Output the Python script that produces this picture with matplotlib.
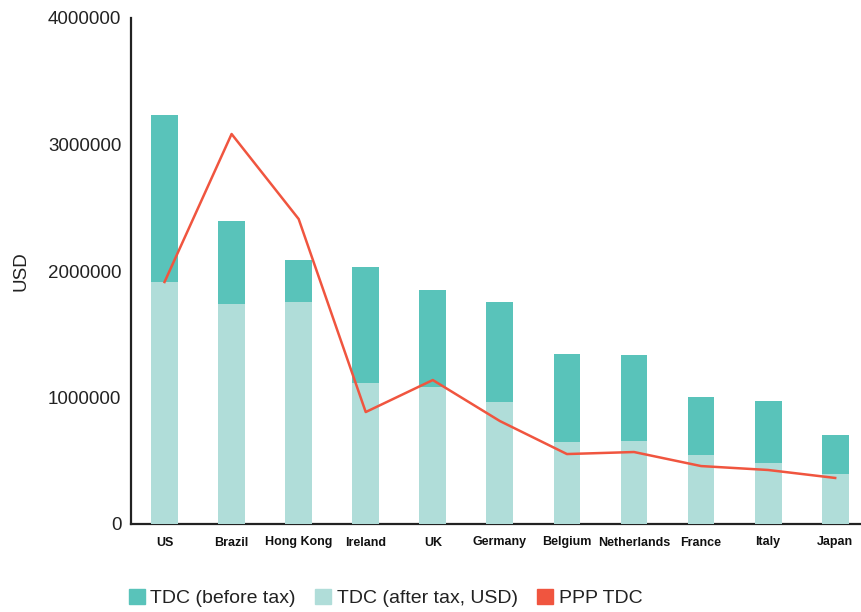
import matplotlib
matplotlib.use("Agg")
import matplotlib.pyplot as plt
from matplotlib.patches import Patch

countries = ["US", "Brazil", "Hong Kong", "Ireland", "UK", "Germany",
             "Belgium", "Netherlands", "France", "Italy", "Japan"]
tdc_before_tax = [3233000, 2395000, 2087000, 2032000, 1850000, 1755000,
                  1344000, 1336000, 1004000, 972000, 704000]
tdc_after_tax = [1913000, 1739000, 1755000, 1115000, 1083000, 964000,
                 648000, 656000, 545000, 482000, 395000]
ppp_tdc = [1913000, 3083000, 2411000, 885000, 1138000, 814000,
           553000, 569000, 458000, 427000, 364000]

C_BEFORE = "#59C3BA"
C_AFTER = "#B0DDD9"
C_PPP = "#F0553F"

plt.rcParams["font.family"] = ["Liberation Sans", "DejaVu Sans"]

fig = plt.figure(figsize=(8.62, 6.12), dpi=100)
ax = fig.add_axes([131 / 862, 1 - 524 / 612, (862 - 131) / 862, (524 - 18) / 612])

x = range(len(countries))
# before-tax bar drawn full height, after-tax overlaid from zero
ax.bar(x, tdc_before_tax, width=0.4, color=C_BEFORE, zorder=2)
ax.bar(x, tdc_after_tax, width=0.4, color=C_AFTER, zorder=3)
ax.plot(x, ppp_tdc, color=C_PPP, linewidth=1.8, zorder=4)

ax.set_ylim(0, 4000000)
ax.set_xlim(-0.5, 10.4)
ax.set_yticks([0, 1000000, 2000000, 3000000, 4000000])
ax.set_yticklabels(["0", "1000000", "2000000", "3000000", "4000000"],
                   fontsize=13.5, color="#222222")
ax.set_xticks(list(x))
ax.set_xticklabels(countries, fontsize=9, fontweight="bold", color="#111111")
ax.tick_params(axis="both", length=0)
ax.tick_params(axis="y", pad=7)
ax.tick_params(axis="x", pad=9)
ax.set_ylabel("USD", fontsize=13.5, color="#222222", labelpad=13)

for side in ["top", "right"]:
    ax.spines[side].set_visible(False)
for side in ["left", "bottom"]:
    ax.spines[side].set_linewidth(1.6)
    ax.spines[side].set_color("#222222")

handles = [Patch(color=C_BEFORE, label="TDC (before tax)"),
           Patch(color=C_AFTER, label="TDC (after tax, USD)"),
           Patch(color=C_PPP, label="PPP TDC")]
leg = fig.legend(handles=handles, loc="center left", bbox_to_anchor=(129 / 862, 1 - 598 / 612),
                 ncol=3, frameon=False, fontsize=14, handlelength=0.8, handleheight=0.8,
                 handletextpad=0.3, columnspacing=1.0, borderpad=0, borderaxespad=0)
for t in leg.get_texts():
    t.set_color("#222222")

fig.savefig("out.png", dpi=100)
